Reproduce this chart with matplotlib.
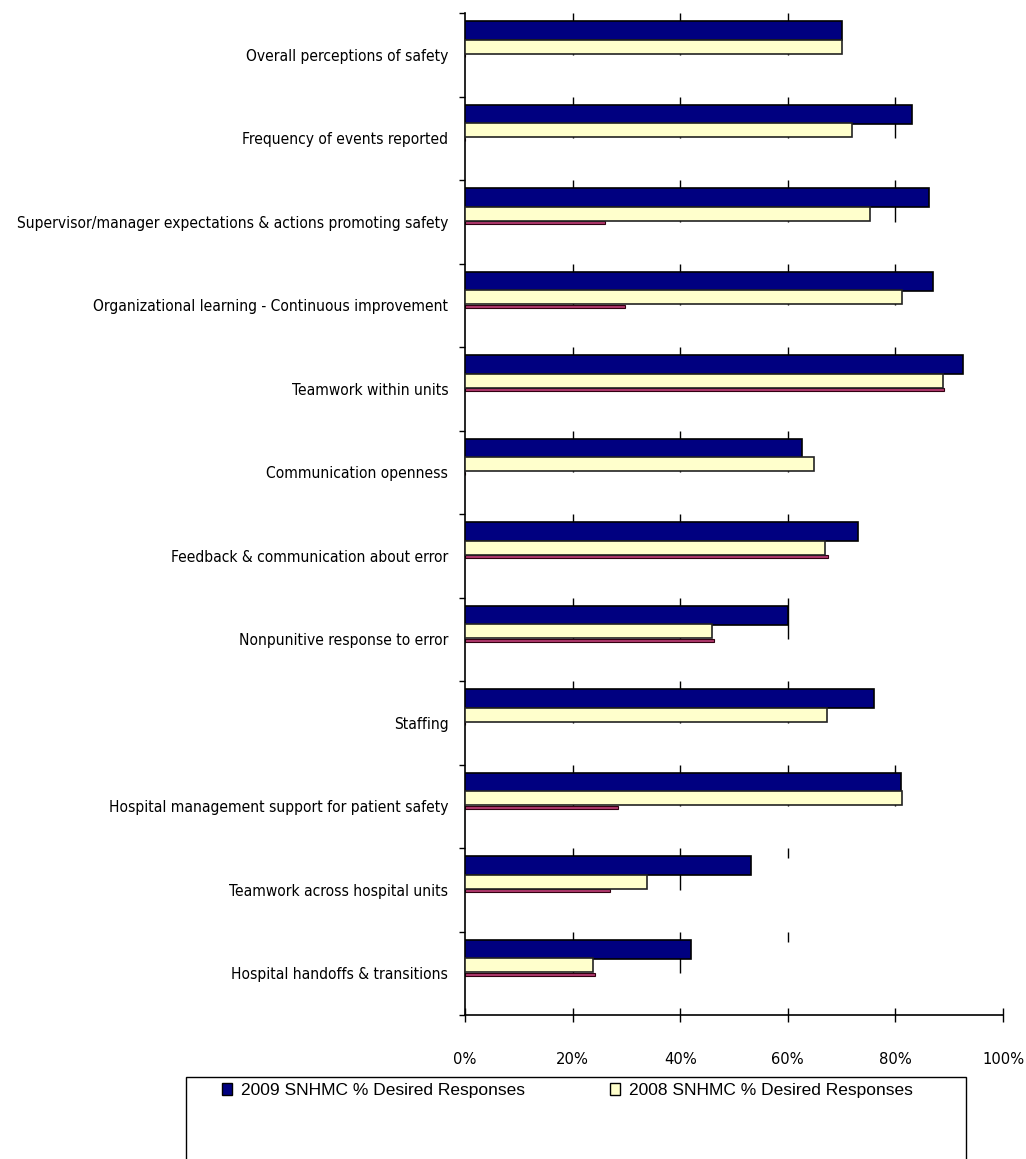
import matplotlib
matplotlib.use("Agg")
import matplotlib.pyplot as plt
from matplotlib.patches import Rectangle, Patch
import numpy as np

categories = [
    "Overall perceptions of safety",
    "Frequency of events reported",
    "Supervisor/manager expectations & actions promoting safety",
    "Organizational learning - Continuous improvement",
    "Teamwork within units",
    "Communication openness",
    "Feedback & communication about error",
    "Nonpunitive response to error",
    "Staffing",
    "Hospital management support for patient safety",
    "Teamwork across hospital units",
    "Hospital handoffs & transitions",
]
values_2009 = [70, 83, 86.3, 87, 92.5, 62.7, 73, 60, 76, 81, 53.2, 42]
values_2008 = [70, 72, 75.2, 81.2, 88.8, 64.8, 67, 46, 67.2, 81.2, 33.8, 23.8]
values_third = [0, 0, 26, 29.7, 89, 0, 67.4, 46.3, 0, 28.4, 27, 24.2]
xtick_labels = ["0%", "20%", "40%", "60%", "80%", "100%"]
legend_labels = ["2009 SNHMC % Desired Responses", "2008 SNHMC % Desired Responses"]

W, H = 1026, 1159
fig = plt.figure(figsize=(W / 100, H / 100), dpi=100)
ax = fig.add_axes([465 / W, 1 - 1015 / H, (1003 - 465) / W, (1015 - 13) / H])

font_kw = dict(family="DejaVu Sans", stretch="condensed")

y = np.arange(len(categories))
ax.barh(y - 0.29, values_2009, height=0.228, color="#000080", edgecolor="black", linewidth=1.2, zorder=3)
ax.barh(y - 0.093, values_2008, height=0.168, color="#FFFFCC", edgecolor="#222222", linewidth=1.2, zorder=3)
ax.barh(y + 0.012, values_third, height=0.036, color="#B03A6E", edgecolor="#330011", linewidth=0.8, zorder=2)

# partial gridline segments within each category band
grid_x = [20, 40, 60, 80]
for i in range(len(categories)):
    for gx in grid_x:
        if gx <= values_2009[i]:
            ax.vlines(gx, i - 0.5, i + 0.0, colors="black", linewidth=1.0, zorder=1)
        elif gx < 80:
            ax.vlines(gx, i - 0.5, i - 0.38, colors="black", linewidth=1.0, zorder=1)

ax.set_xlim(0, 100)
ax.set_ylim(len(categories) - 0.5, -0.5)

ax.set_yticks(y)
ylabels = ax.set_yticklabels(categories, fontsize=13, **font_kw)
ax.tick_params(axis="y", which="major", length=0, pad=12)
ax.set_yticks(np.arange(len(categories) + 1) - 0.5, minor=True)
ax.tick_params(axis="y", which="minor", length=4, width=1, direction="out")

ax.set_xticks([0, 20, 40, 60, 80, 100])
xlabels = ax.set_xticklabels(xtick_labels, fontsize=13, **font_kw)
ax.tick_params(axis="x", length=10, width=1, direction="inout", pad=22)

for s in ["top", "right"]:
    ax.spines[s].set_visible(False)
ax.spines["left"].set_linewidth(1.2)
ax.spines["bottom"].set_linewidth(1.2)

# fit label sizes so widths match the reference
fig.canvas.draw()
r = fig.canvas.get_renderer()
maxw = max(t.get_window_extent(r).width for t in ylabels)
ax.set_yticklabels(categories, fontsize=13 * 432 / maxw, **font_kw)
w100 = xlabels[-1].get_window_extent(r).width
ax.set_xticklabels(xtick_labels, fontsize=13 * 42 / w100, **font_kw)

# legend box (cut off at bottom)
fig.patches.append(Rectangle((186 / W, -0.05), (966 - 186) / W, 0.05 + 1 - 1077 / H,
                             transform=fig.transFigure, facecolor="white", edgecolor="black",
                             linewidth=1.0, zorder=0))
handles = [Patch(facecolor="#000080", edgecolor="black"), Patch(facecolor="#FFFFCC", edgecolor="black")]
leg = fig.legend(handles, legend_labels, loc="upper left", bbox_to_anchor=(220 / W, 1 - 1081 / H),
                 ncol=2, frameon=False, prop={"family": "Liberation Sans", "size": 12.5},
                 handlelength=0.6, handleheight=0.7, handletextpad=0.5, columnspacing=4.9,
                 borderaxespad=0, borderpad=0.1)

fig.savefig("out.png", dpi=100)
